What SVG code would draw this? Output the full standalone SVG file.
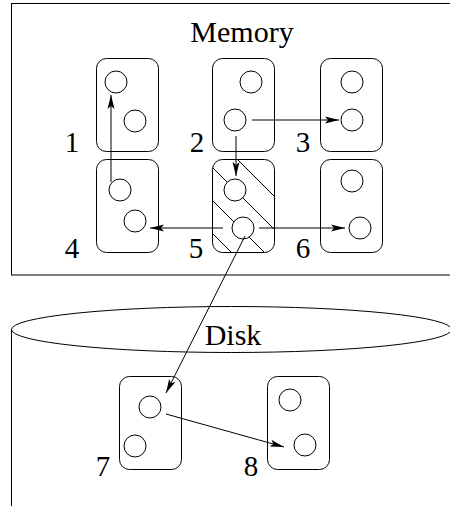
<svg xmlns="http://www.w3.org/2000/svg" width="450" height="506" viewBox="0 0 450 506">
<style>
.frame{fill:none;stroke:#000;stroke-width:1}
.box{fill:none;stroke:#000;stroke-width:1}
.c{fill:#fff;stroke:#000;stroke-width:1}
.lbl{font-family:"Liberation Serif","Times New Roman",serif;font-size:29px;fill:#000;text-anchor:middle}
.title{font-family:"Liberation Serif","Times New Roman",serif;font-size:30px;fill:#000;text-anchor:middle}
.arr{fill:none;stroke:#000;stroke-width:1;marker-end:url(#ah)}
.hatch{stroke:#000;stroke-width:1}
</style>
<defs>
<marker id="ah" viewBox="-15 -5 16 10" refX="0" refY="0" markerWidth="16" markerHeight="10" markerUnits="userSpaceOnUse" orient="auto">
<path d="M0,0 L-14,-3.5 L-11,0 L-14,3.5 Z" fill="#000"/>
</marker>
<clipPath id="clip5"><rect x="212.5" y="159.5" width="62" height="93" rx="10"/></clipPath>
</defs>
<g id="memory">
<rect class="frame" x="11.5" y="3.5" width="460" height="271.5"/>
<text class="title" x="242" y="42">Memory</text>
</g>
<g id="disk">
<path class="frame" d="M11.5,329.5 L11.5,506"/>
<ellipse class="frame" cx="231.5" cy="329.5" rx="220" ry="23"/>
<text class="title" x="233" y="345">Disk</text>
</g>
<g id="node1">
<rect class="box" x="96.5" y="58.5" width="62" height="93" rx="10"/>
<circle class="c" cx="116" cy="82" r="11"/>
<circle class="c" cx="135" cy="121" r="11"/>
<text class="lbl" x="72" y="152">1</text>
</g>
<g id="node2">
<rect class="box" x="212.5" y="58.5" width="62" height="93" rx="10"/>
<circle class="c" cx="251" cy="82" r="11"/>
<circle class="c" cx="235" cy="120" r="11"/>
<text class="lbl" x="197" y="152">2</text>
</g>
<g id="node3">
<rect class="box" x="320.5" y="58.5" width="62" height="93" rx="10"/>
<circle class="c" cx="352" cy="82" r="11"/>
<circle class="c" cx="352" cy="120" r="11"/>
<text class="lbl" x="303" y="152">3</text>
</g>
<g id="node4">
<rect class="box" x="96.5" y="159.5" width="62" height="93" rx="10"/>
<circle class="c" cx="120" cy="190" r="11"/>
<circle class="c" cx="135" cy="221" r="11"/>
<text class="lbl" x="72" y="258">4</text>
</g>
<g id="node5">
<g clip-path="url(#clip5)">
<line class="hatch" x1="150" y1="72" x2="300" y2="222"/>
<line class="hatch" x1="150" y1="105" x2="300" y2="255"/>
<line class="hatch" x1="150" y1="138" x2="300" y2="288"/>
<line class="hatch" x1="150" y1="171" x2="300" y2="321"/>
</g>
<rect class="box" x="212.5" y="159.5" width="62" height="93" rx="10"/>
<circle class="c" cx="235" cy="190" r="11"/>
<circle class="c" cx="243" cy="228" r="11"/>
<text class="lbl" x="196" y="258">5</text>
</g>
<g id="node6">
<rect class="box" x="320.5" y="159.5" width="62" height="93" rx="10"/>
<circle class="c" cx="352" cy="181" r="11"/>
<circle class="c" cx="360" cy="228" r="11"/>
<text class="lbl" x="303" y="258">6</text>
</g>
<g id="node7">
<rect class="box" x="119.5" y="376.5" width="62" height="93" rx="10"/>
<circle class="c" cx="150" cy="407" r="11"/>
<circle class="c" cx="135" cy="446" r="11"/>
<text class="lbl" x="103" y="476">7</text>
</g>
<g id="node8">
<rect class="box" x="267.5" y="376.5" width="62" height="93" rx="10"/>
<circle class="c" cx="290" cy="400" r="11"/>
<circle class="c" cx="305" cy="445" r="11"/>
<text class="lbl" x="251" y="476">8</text>
</g>
<g id="connectors">
<line class="arr" x1="111" y1="182" x2="111" y2="95"/>
<line class="arr" x1="252" y1="120" x2="339" y2="120"/>
<line class="arr" x1="236" y1="136" x2="236" y2="176"/>
<line class="arr" x1="223" y1="228" x2="150" y2="228"/>
<line class="arr" x1="259" y1="228" x2="345" y2="228"/>
<line class="arr" x1="245" y1="236" x2="166" y2="393"/>
<line class="arr" x1="166" y1="414" x2="284" y2="447"/>
</g>
</svg>
